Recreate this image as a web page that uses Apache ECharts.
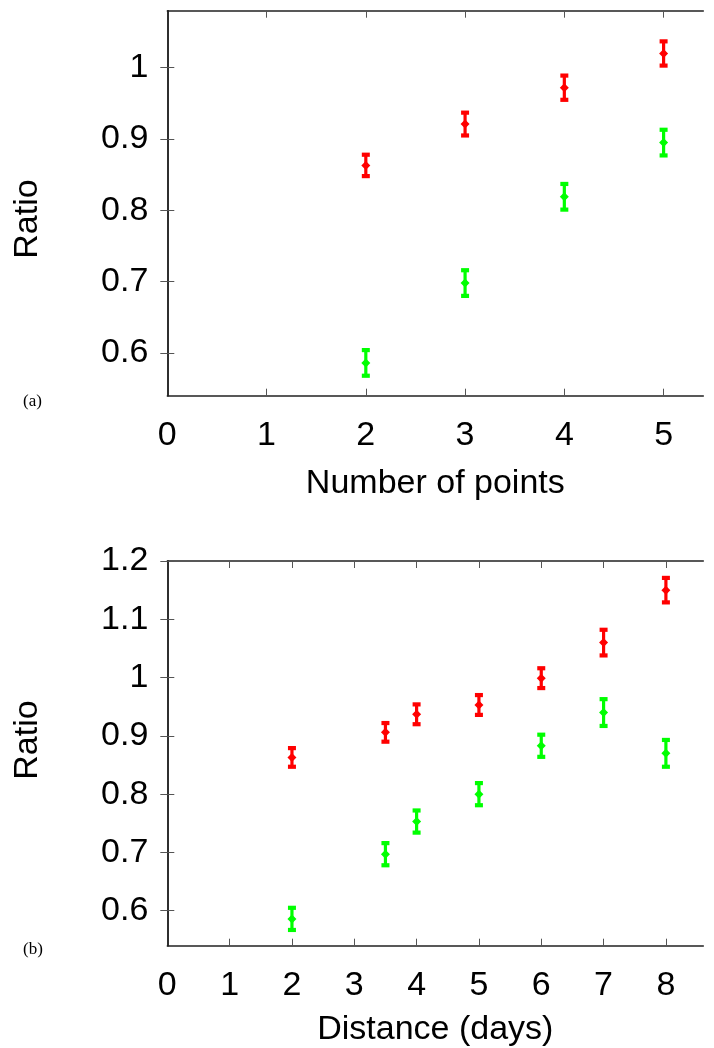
<!DOCTYPE html>
<html>
<head>
<meta charset="utf-8">
<script src="https://cdn.jsdelivr.net/npm/echarts@6/dist/echarts.min.js"></script>
<style>
  html, body { margin: 0; padding: 0; background: #ffffff; }
  #chart { width: 714px; height: 1048px; }
</style>
</head>
<body>
<div id="chart"></div>
<script>
// Panel (a): ratio against number of points
const pointsX = [2, 3, 4, 5];
const redA = [0.863, 0.921, 0.972, 1.020];
const redAErr = [0.015, 0.016, 0.017, 0.017];
const greenA = [0.586, 0.698, 0.819, 0.895];
const greenAErr = [0.018, 0.018, 0.018, 0.018];

// Panel (b): ratio against distance in days
const daysX = [2, 3.5, 4, 5, 6, 7, 8];
const redB = [0.863, 0.906, 0.937, 0.953, 0.999, 1.060, 1.150];
const redBErr = [0.016, 0.016, 0.017, 0.017, 0.017, 0.022, 0.021];
const greenB = [0.586, 0.697, 0.753, 0.800, 0.883, 0.940, 0.870];
const greenBErr = [0.019, 0.019, 0.019, 0.019, 0.019, 0.023, 0.023];

// Tick labels
const xTicksA = [0, 1, 2, 3, 4, 5];
const yTicksA = [0.6, 0.7, 0.8, 0.9, 1.0];
const xTicksB = [0, 1, 2, 3, 4, 5, 6, 7, 8];
const yTicksB = [0.6, 0.7, 0.8, 0.9, 1.0, 1.1, 1.2];

const RED = '#ff0000';
const GREEN = '#00ff00';
const FONT = "'Liberation Sans', Arial, Helvetica, sans-serif";

function rows(xs, ys, errs) {
  return xs.map((x, i) => [x, ys[i], ys[i] - errs[i], ys[i] + errs[i]]);
}

// Vertical error bar with end caps and a small diamond at the value
function errorBarItem(color) {
  return function (params, api) {
    const c = api.coord([api.value(0), api.value(1)]);
    const lo = api.coord([api.value(0), api.value(2)]);
    const hi = api.coord([api.value(0), api.value(3)]);
    const capW = 8, capH = 4.2, d = 4.5;
    return {
      type: 'group',
      children: [
        { type: 'line', shape: { x1: c[0], y1: lo[1], x2: c[0], y2: hi[1] },
          style: { stroke: color, lineWidth: 3.2 } },
        { type: 'rect', shape: { x: c[0] - capW / 2, y: hi[1] - capH / 2, width: capW, height: capH },
          style: { fill: color } },
        { type: 'rect', shape: { x: c[0] - capW / 2, y: lo[1] - capH / 2, width: capW, height: capH },
          style: { fill: color } },
        { type: 'polygon', shape: { points: [[c[0], c[1] - d], [c[0] + d, c[1]], [c[0], c[1] + d], [c[0] - d, c[1]]] },
          style: { fill: color } }
      ]
    };
  };
}

const numFmt = v => String(Number(v.toFixed(2)));

const axisLineStyle = { show: true, lineStyle: { color: '#222', width: 1.5 } };
const tickStyle = { color: '#555', width: 1 };

function bottomX(gridIndex, max, labels, name, nameGap) {
  return {
    type: 'value', gridIndex, position: 'bottom', min: 0, max,
    axisLine: axisLineStyle,
    axisTick: { show: true, inside: true, length: 7, lineStyle: tickStyle, customValues: labels.slice(1) },
    axisLabel: { show: true, margin: 23, color: '#000', fontSize: 34, fontFamily: FONT,
                 customValues: labels, formatter: numFmt },
    splitLine: { show: false },
    name, nameLocation: 'middle', nameGap,
    nameTextStyle: { color: '#000', fontSize: 34, fontFamily: FONT }
  };
}
function topX(gridIndex, max, labels) {
  return {
    type: 'value', gridIndex, position: 'top', min: 0, max,
    axisLine: axisLineStyle,
    axisTick: { show: true, inside: true, length: 7, lineStyle: tickStyle, customValues: labels.slice(1) },
    axisLabel: { show: false },
    splitLine: { show: false }
  };
}
function leftY(gridIndex, min, max, labels) {
  return {
    type: 'value', gridIndex, position: 'left', min, max,
    axisLine: axisLineStyle,
    axisTick: { show: true, inside: true, length: 7, lineStyle: tickStyle, customValues: labels },
    axisLabel: { show: true, margin: 19, color: '#000', fontSize: 34, fontFamily: FONT,
                 customValues: labels, formatter: numFmt },
    splitLine: { show: false }
  };
}
function rightY(gridIndex, min, max, labels) {
  return {
    type: 'value', gridIndex, position: 'right', min, max,
    axisLine: axisLineStyle,
    axisTick: { show: true, inside: true, length: 7, lineStyle: tickStyle, customValues: labels },
    axisLabel: { show: false },
    splitLine: { show: false }
  };
}

const chart = echarts.init(document.getElementById('chart'), null, { renderer: 'canvas' });

chart.setOption({
  animation: false,
  backgroundColor: '#ffffff',
  grid: [
    { left: 167.3, top: 10.7, width: 536, height: 385 },
    { left: 167.3, top: 561, width: 536, height: 384.7 }
  ],
  xAxis: [
    bottomX(0, 5.4, xTicksA, 'Number of points', 71),
    topX(0, 5.4, xTicksA),
    bottomX(1, 8.6, xTicksB, 'Distance (days)', 67),
    topX(1, 8.6, xTicksB)
  ],
  yAxis: [
    leftY(0, 0.54, 1.08, yTicksA),
    rightY(0, 0.54, 1.08, yTicksA),
    leftY(1, 0.54, 1.2, yTicksB),
    rightY(1, 0.54, 1.2, yTicksB)
  ],
  graphic: [
    { type: 'text', x: 28, y: 219, rotation: Math.PI / 2,
      style: { text: 'Ratio', fill: '#000', font: '34px ' + FONT, align: 'center', verticalAlign: 'middle' } },
    { type: 'text', x: 28, y: 740, rotation: Math.PI / 2,
      style: { text: 'Ratio', fill: '#000', font: '34px ' + FONT, align: 'center', verticalAlign: 'middle' } },
    { type: 'text', x: 23, y: 402,
      style: { text: '(a)', fill: '#000', font: "17px 'Liberation Serif', 'DejaVu Serif', serif", align: 'left', verticalAlign: 'middle' } },
    { type: 'text', x: 23, y: 950,
      style: { text: '(b)', fill: '#000', font: "17px 'Liberation Serif', 'DejaVu Serif', serif", align: 'left', verticalAlign: 'middle' } }
  ],
  series: [
    { type: 'custom', xAxisIndex: 0, yAxisIndex: 0, renderItem: errorBarItem(RED),
      data: rows(pointsX, redA, redAErr), encode: { x: 0, y: [1, 2, 3] } },
    { type: 'custom', xAxisIndex: 0, yAxisIndex: 0, renderItem: errorBarItem(GREEN),
      data: rows(pointsX, greenA, greenAErr), encode: { x: 0, y: [1, 2, 3] } },
    { type: 'custom', xAxisIndex: 2, yAxisIndex: 2, renderItem: errorBarItem(RED),
      data: rows(daysX, redB, redBErr), encode: { x: 0, y: [1, 2, 3] } },
    { type: 'custom', xAxisIndex: 2, yAxisIndex: 2, renderItem: errorBarItem(GREEN),
      data: rows(daysX, greenB, greenBErr), encode: { x: 0, y: [1, 2, 3] } }
  ]
});
</script>
</body>
</html>
